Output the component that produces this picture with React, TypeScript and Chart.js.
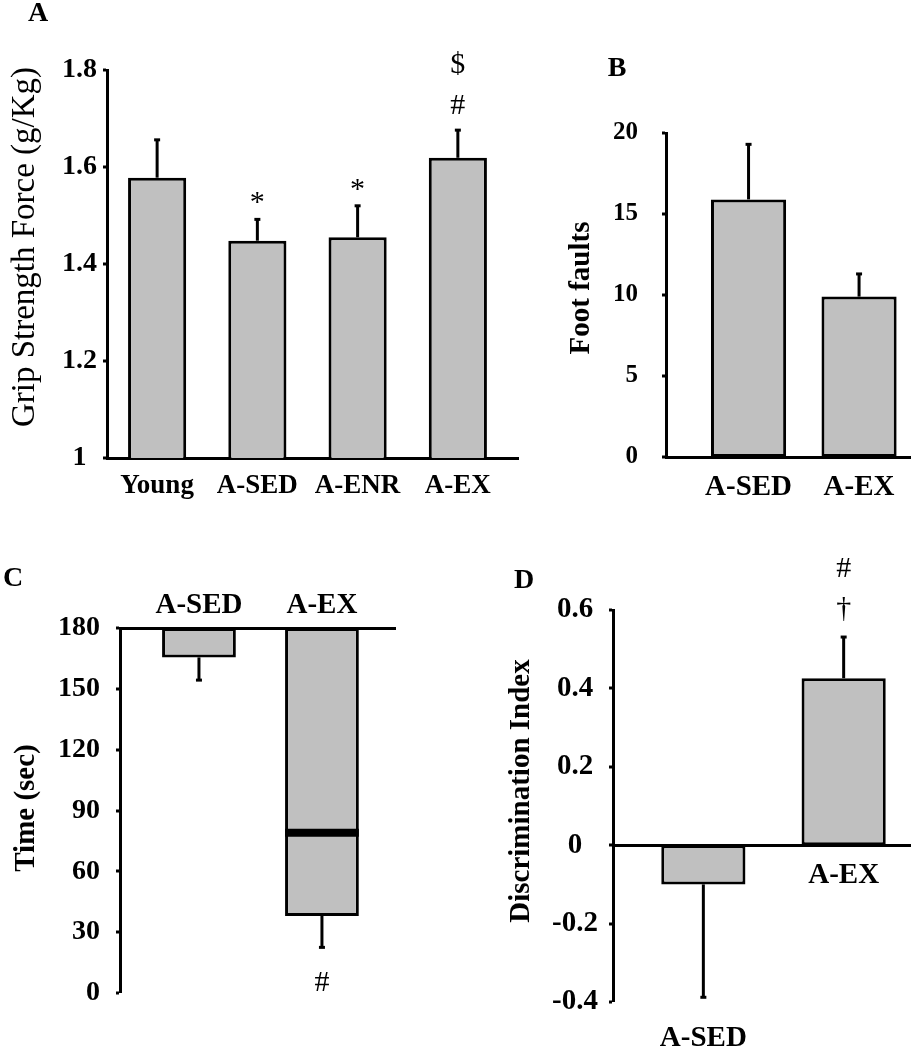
import React, { useEffect, useRef } from 'react';
import { Chart, registerables } from 'chart.js';

Chart.register(...registerables);

const SERIF = "'Liberation Serif', 'Times New Roman', Times, serif";
const GREY = '#c0c0c0';

// ---- Panel A: grip strength ----
const aCategories = ['Young', 'A-SED', 'A-ENR', 'A-EX'];
const aMeans = [1.578, 1.448, 1.455, 1.619];
const aErrors = [0.078, 0.044, 0.065, 0.057];
const aMarks: string[][] = [[], ['*'], ['*'], ['#', '$']];

// ---- Panel B: foot faults ----
const bCategories = ['A-SED', 'A-EX'];
const bMeans = [15.9, 9.9];
const bErrors = [3.4, 1.4];
const bMarks: string[][] = [[], []];

// ---- Panel C: time (bars hang from 180 s) ----
const cCategories = ['A-SED', 'A-EX'];
const cMeans = [165.5, 38];
const cErrors = [11.2, 15.5];
const cCeiling = 180;
const cMidLine: (number | null)[] = [null, 79];
const cMarks: string[][] = [[], ['#']];

// ---- Panel D: discrimination index ----
const dCategories = ['A-SED', 'A-EX'];
const dMeans = [-0.1, 0.426];
const dErrors = [0.288, 0.105];
const dMarks: string[][] = [[], ['†', '#']];

type TextItem = { t: string; x: number; y: number; size: number; bold: boolean; rot?: boolean };

function makeOverlay(cfg: { means: number[]; errors: number[]; base: number; marks: string[][]; texts: TextItem[] }) {
  return {
    id: 'overlay',
    afterDatasetsDraw(chart: any) {
      const ctx = chart.ctx;
      const ys = chart.scales.y;
      const meta = chart.getDatasetMeta(0);
      ctx.save();
      ctx.strokeStyle = '#000';
      ctx.fillStyle = '#000';
      ctx.lineWidth = 3;
      cfg.means.forEach((m, i) => {
        const el = meta.data[i];
        if (!el) return;
        const dir = m >= cfg.base ? 1 : -1;
        const y0 = ys.getPixelForValue(m);
        const y1 = ys.getPixelForValue(m + dir * cfg.errors[i]);
        ctx.beginPath();
        ctx.moveTo(el.x, y0);
        ctx.lineTo(el.x, y1);
        ctx.stroke();
        ctx.beginPath();
        ctx.moveTo(el.x - 3, y1);
        ctx.lineTo(el.x + 3, y1);
        ctx.stroke();
        ctx.font = `30px ${SERIF}`;
        ctx.textAlign = 'center';
        ctx.textBaseline = 'alphabetic';
        let cursor = y1;
        (cfg.marks[i] || []).forEach((t, k) => {
          const mt = ctx.measureText(t);
          if (dir > 0) {
            const gap = k === 0 ? 16 : 20;
            const yb = cursor - gap - mt.actualBoundingBoxDescent;
            ctx.fillText(t, el.x, yb);
            cursor = yb - mt.actualBoundingBoxAscent;
          } else {
            const gap = k === 0 ? 25 : 20;
            const yb = cursor + gap + mt.actualBoundingBoxAscent;
            ctx.fillText(t, el.x, yb);
            cursor = yb + mt.actualBoundingBoxDescent;
          }
        });
      });
      ctx.restore();
    },
    afterDraw(chart: any) {
      const ctx = chart.ctx;
      ctx.save();
      ctx.fillStyle = '#000';
      ctx.textAlign = 'center';
      ctx.textBaseline = 'middle';
      cfg.texts.forEach((tx) => {
        ctx.save();
        ctx.font = `${tx.bold ? 'bold ' : ''}${tx.size}px ${SERIF}`;
        ctx.translate(tx.x, tx.y);
        if (tx.rot) ctx.rotate(-Math.PI / 2);
        ctx.fillText(tx.t, 0, 0);
        ctx.restore();
      });
      ctx.restore();
    },
  };
}

function catAxis(
  cats: string[],
  min: number,
  max: number,
  position: any,
  height: number,
  size: number,
  padding: number,
  showBorder: boolean,
  show: (i: number) => boolean
) {
  return {
    type: 'linear',
    min,
    max,
    offset: false,
    position,
    afterBuildTicks: (s: any) => {
      s.ticks = cats.map((_, i) => ({ value: i }));
    },
    afterFit: (s: any) => {
      s.height = height;
    },
    grid: { display: false, drawTicks: false },
    border: { display: showBorder, color: '#000', width: 3 },
    ticks: {
      autoSkip: false,
      maxRotation: 0,
      minRotation: 0,
      padding,
      color: '#000',
      font: { family: SERIF, size, weight: 'bold' },
      callback: (v: any) => (show(v) ? cats[v] ?? '' : ''),
    },
  };
}

function valAxis(min: number, max: number, step: number, width: number, size: number, padding: number, crossAlign: string) {
  return {
    type: 'linear',
    min,
    max,
    position: 'left',
    afterFit: (s: any) => {
      s.width = width;
    },
    grid: {
      display: true,
      drawOnChartArea: false,
      drawTicks: true,
      tickLength: 4,
      color: '#000',
      lineWidth: 0,
      tickWidth: 3,
      tickColor: '#000',
    },
    border: { display: true, color: '#000', width: 3 },
    ticks: {
      stepSize: step,
      padding,
      crossAlign,
      color: '#000',
      font: { family: SERIF, size, weight: 'bold' },
      callback: (v: any) => String(Number(Number(v).toFixed(3))),
    },
  };
}

const baseOptions = (padding: any) => ({
  responsive: false,
  animation: false,
  events: [],
  layout: { padding },
  plugins: { legend: { display: false }, tooltip: { enabled: false } },
});

const barStyle = (pct: number) => ({
  backgroundColor: GREY,
  borderColor: '#000',
  borderWidth: 3,
  borderSkipped: false,
  barPercentage: pct,
  categoryPercentage: 1,
  grouped: false,
});

function buildA(): any {
  return {
    type: 'bar',
    data: { datasets: [{ data: aMeans.map((v, i) => ({ x: i, y: v })), ...barStyle(0.58) }] },
    options: {
      ...baseOptions({ left: 0, top: 70, right: 42, bottom: 0 }),
      scales: {
        x: catAxis(aCategories, -0.5, 3.6, 'bottom', 42, 27, 12, true, () => true),
        y: valAxis(1, 1.8, 0.2, 107, 28, 6, 'center'),
      },
    },
    plugins: [
      makeOverlay({
        means: aMeans,
        errors: aErrors,
        base: 0,
        marks: aMarks,
        texts: [
          { t: 'A', x: 38, y: 14, size: 28, bold: true },
          { t: 'Grip Strength Force (g/Kg)', x: 25, y: 247, size: 33, bold: false, rot: true },
        ],
      }),
    ],
  };
}

function buildB(): any {
  return {
    type: 'bar',
    data: { datasets: [{ data: bMeans.map((v, i) => ({ x: i, y: v })), ...barStyle(0.68) }] },
    options: {
      ...baseOptions({ left: 0, top: 133, right: 0, bottom: 0 }),
      scales: {
        x: catAxis(bCategories, -0.747, 1.47, 'bottom', 43, 29, 13, true, () => true),
        y: valAxis(0, 20, 5, 106, 25, 24, 'near'),
      },
    },
    plugins: [
      makeOverlay({
        means: bMeans,
        errors: bErrors,
        base: 0,
        marks: bMarks,
        texts: [
          { t: 'B', x: 57, y: 69, size: 28, bold: true },
          { t: 'Foot faults', x: 22, y: 288, size: 29, bold: true, rot: true },
        ],
      }),
    ],
  };
}

function buildC(): any {
  return {
    type: 'bar',
    data: {
      datasets: [
        { data: cMeans.map((v, i) => ({ x: i, y: [v, cCeiling] })), ...barStyle(0.6), order: 1 },
        {
          data: cMidLine.flatMap((v, i) => (v == null ? [] : [{ x: i, y: [v - 2, v + 2] }])),
          backgroundColor: '#000',
          borderWidth: 0,
          barPercentage: 0.6,
          categoryPercentage: 1,
          grouped: false,
          order: 0,
        },
      ],
    },
    options: {
      ...baseOptions({ left: 0, top: 48, right: 25, bottom: 57 }),
      scales: {
        x: catAxis(cCategories, -0.642, 1.594, 'top', 40, 29, 5, true, () => true),
        y: valAxis(0, 180, 30, 120, 28, 16, 'near'),
      },
    },
    plugins: [
      makeOverlay({
        means: cMeans,
        errors: cErrors,
        base: cCeiling,
        marks: cMarks,
        texts: [
          { t: 'C', x: 13, y: 39, size: 28, bold: true },
          { t: 'Time (sec)', x: 27, y: 268, size: 29, bold: true, rot: true },
        ],
      }),
    ],
  };
}

function buildD(): any {
  return {
    type: 'bar',
    data: { datasets: [{ data: dMeans.map((v, i) => ({ x: i, y: v })), ...barStyle(0.6), xAxisID: 'x' }] },
    options: {
      ...baseOptions({ left: 0, top: 70, right: 0, bottom: 0 }),
      scales: {
        x: catAxis(dCategories, -0.644, 1.48, { y: 0 }, 40, 29, 13, true, (i) => dMeans[i] >= 0),
        x2: { ...catAxis(dCategories, -0.644, 1.48, 'bottom', 48, 29, 19, false, (i) => dMeans[i] < 0), axis: 'x' },
        y: valAxis(-0.4, 0.6, 0.2, 193, 29, 11, 'center'),
      },
    },
    plugins: [
      makeOverlay({
        means: dMeans,
        errors: dErrors,
        base: 0,
        marks: dMarks,
        texts: [
          { t: 'D', x: 104, y: 41, size: 28, bold: true },
          { t: 'Discrimination Index', x: 102, y: 251, size: 29, bold: true, rot: true },
        ],
      }),
    ],
  };
}

function Panel({ left, top, width, height, build }: { left: number; top: number; width: number; height: number; build: () => any }) {
  const ref = useRef<HTMLCanvasElement>(null);
  useEffect(() => {
    const chart = new Chart(ref.current as HTMLCanvasElement, build());
    return () => chart.destroy();
  }, []);
  return (
    <canvas
      ref={ref}
      width={width}
      height={height}
      style={{ position: 'absolute', left, top, width, height }}
    />
  );
}

export default function App() {
  return (
    <div style={{ position: 'absolute', left: 0, top: 0, width: 911, height: 1050, background: '#fff', overflow: 'hidden' }}>
      <Panel left={0} top={0} width={560} height={500} build={buildA} />
      <Panel left={560} top={0} width={351} height={500} build={buildB} />
      <Panel left={0} top={540} width={420} height={510} build={buildC} />
      <Panel left={420} top={540} width={491} height={510} build={buildD} />
    </div>
  );
}
